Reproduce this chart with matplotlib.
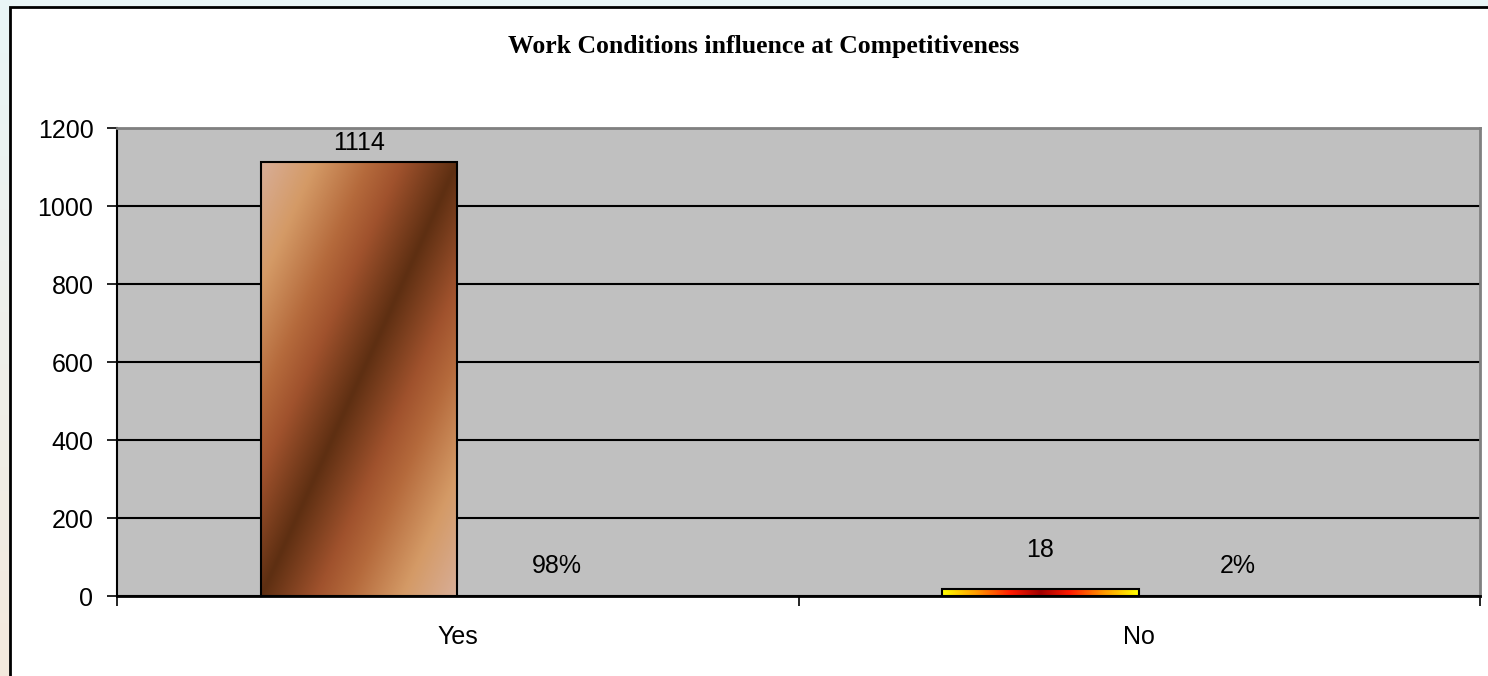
import numpy as np
import matplotlib
matplotlib.use("Agg")
import matplotlib.pyplot as plt
from matplotlib.colors import LinearSegmentedColormap
from matplotlib.patches import Rectangle

# data
categories = ["Yes", "No"]
counts = [1114, 18]
shares = [0.98, 0.02]

title = "Work Conditions influence at Competitiveness"
y_ticks = [0, 200, 400, 600, 800, 1000, 1200]

# bar fills (gradient stops, dark centre -> light edge)
brown = LinearSegmentedColormap.from_list(
    "brown", [(0.0, "#5e2f12"), (0.28, "#a0522d"), (0.45, "#b56a3c"),
              (0.72, "#d49a66"), (1.0, "#d8ae98")])
fire = LinearSegmentedColormap.from_list(
    "fire", [(0.0, "#a00000"), (0.3, "#ff1a00"), (0.65, "#ff9900"),
             (1.0, "#ffff00")])

W, H, DPI = 1488, 676, 100
fig = plt.figure(figsize=(W / DPI, H / DPI), dpi=DPI)

# soft page background behind the chart frame
bg = fig.add_axes([0, 0, 1, 1], zorder=-10)
grad = np.linspace(0, 1, 256)[:, None]
bg_cmap = LinearSegmentedColormap.from_list("bg", ["#f4e9dd", "#e9f6f7"])
bg.imshow(grad, cmap=bg_cmap, aspect="auto", origin="lower",
          extent=[0, 1, 0, 1])
bg.axis("off")

# white chart frame with black border (runs off right/bottom edge)
fig.patches.append(Rectangle((10 / W, -0.05), 1.1, 1 - 7 / H + 0.05,
                             transform=fig.transFigure, facecolor="white",
                             edgecolor="black", linewidth=2.0, zorder=-5))

ax = fig.add_axes([117 / W, 1 - 596 / H, (1480 - 117) / W, (596 - 128) / H])
ax.set_facecolor("#c0c0c0")

x = np.arange(len(categories))
bw = 0.288
off = 0.145
bars = ax.bar(x - off, counts, bw, edgecolor="black", linewidth=1.5,
              facecolor="none", zorder=3)
pct_bars = ax.bar(x + off, shares, bw, color="none", zorder=3)


def gradient_fill(bar, cmap, diagonal):
    x0, y0 = bar.get_x(), bar.get_y()
    w, h = bar.get_width(), bar.get_height()
    u, v = np.meshgrid(np.linspace(0, 1, 200), np.linspace(0, 1, 400))
    if diagonal:
        t = np.abs(u - v)
    else:
        t = np.abs(2 * u - 1)
    im = ax.imshow(t, cmap=cmap, origin="lower", aspect="auto",
                   extent=[x0, x0 + w, y0, y0 + h], zorder=2,
                   interpolation="bilinear", vmin=0, vmax=1)
    im.set_clip_path(bar)


gradient_fill(bars[0], brown, True)
gradient_fill(bars[1], fire, False)

# value labels
count_offsets = [19, 39]
for b, val, dy in zip(bars, counts, count_offsets):
    ax.annotate(f"{val}", (b.get_x() + b.get_width() / 2, b.get_height()),
                xytext=(0, dy), textcoords="offset pixels", ha="center",
                va="center", fontsize=18, family="Liberation Sans", zorder=5)
for b, val in zip(pct_bars, shares):
    ax.annotate(f"{val:.0%}", (b.get_x() + b.get_width() / 2, b.get_height()),
                xytext=(0, 30), textcoords="offset pixels", ha="center",
                va="center", fontsize=18, family="Liberation Sans", zorder=5)

ax.set_xlim(-0.5, len(categories) - 0.5)
ax.set_ylim(0, 1200)
ax.set_yticks(y_ticks)
ax.set_yticklabels([str(t) for t in y_ticks], fontsize=18,
                   family="Liberation Sans")
ax.set_xticks(x)
ax.set_xticklabels(categories, fontsize=18, family="Liberation Sans")
ax.set_xticks(np.arange(-0.5, len(categories)), minor=True)
ax.tick_params(axis="x", which="major", length=0, pad=21)
ax.tick_params(axis="x", which="minor", length=7, width=1.2, direction="out")
ax.tick_params(axis="y", length=7, width=1.2, pad=10)

ax.yaxis.grid(True, color="black", linewidth=1.5)
ax.set_axisbelow(True)
for side in ("top", "right"):
    ax.spines[side].set_color("#808080")
    ax.spines[side].set_linewidth(2)
ax.spines["left"].set_linewidth(1.5)
ax.spines["bottom"].set_linewidth(2)

fig.text(764 / W, 1 - 47 / H, title, ha="center", va="center",
         fontsize=18.5, fontweight="bold", family="Liberation Serif")

fig.savefig("out.png", dpi=DPI)
